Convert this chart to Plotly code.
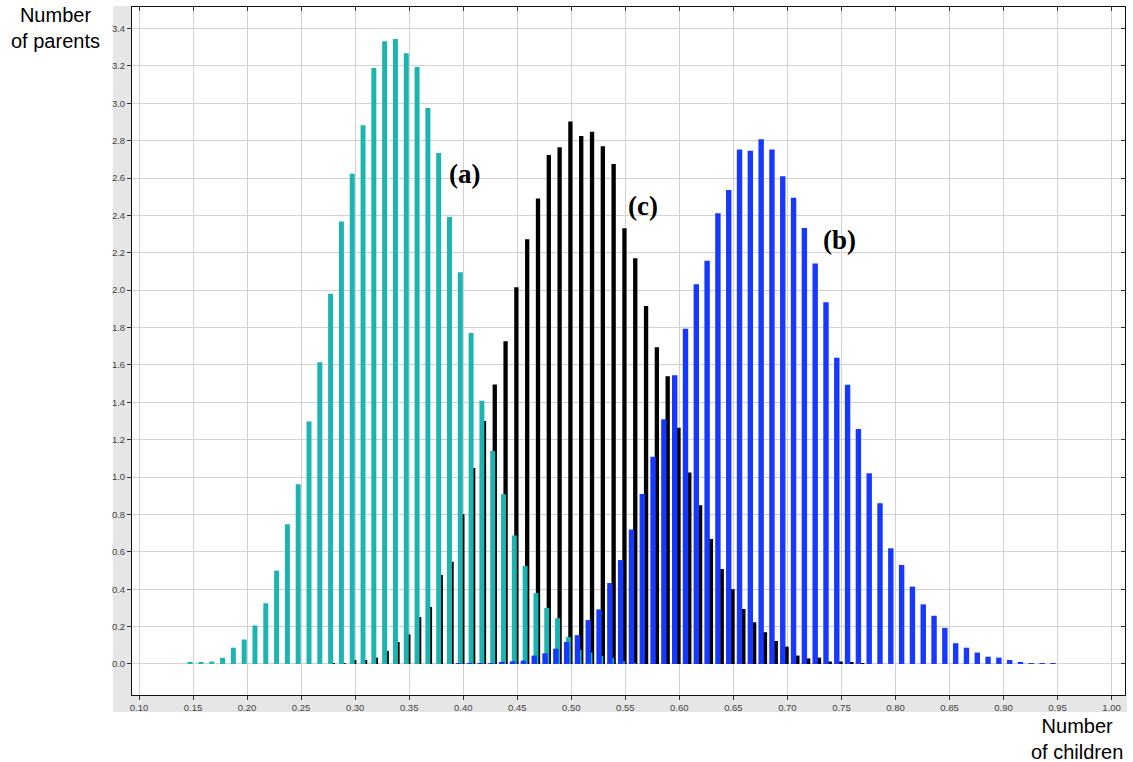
import plotly.graph_objects as go

# ---- data ----
bins_a = [0.15, 0.16, 0.17, 0.18, 0.19, 0.20, 0.21, 0.22, 0.23, 0.24, 0.25, 0.26, 0.27, 0.28,
          0.29, 0.30, 0.31, 0.32, 0.33, 0.34, 0.35, 0.36, 0.37, 0.38, 0.39, 0.40, 0.41, 0.42,
          0.43, 0.44, 0.45, 0.46, 0.47, 0.48, 0.49, 0.50, 0.51, 0.52, 0.53, 0.54, 0.55, 0.56]
vals_a = [0.008, 0.008, 0.013, 0.033, 0.087, 0.131, 0.206, 0.325, 0.499, 0.747, 0.961, 1.297,
          1.614, 1.981, 2.367, 2.623, 2.882, 3.189, 3.332, 3.344, 3.267, 3.194, 2.975, 2.734,
          2.392, 2.096, 1.771, 1.408, 1.140, 0.908, 0.688, 0.524, 0.379, 0.300, 0.245, 0.144,
          0.076, 0.062, 0.044, 0.033, 0.015, 0.004]

bins_c = [0.28, 0.29, 0.30, 0.31, 0.32, 0.33, 0.34, 0.35, 0.36, 0.37, 0.38, 0.39, 0.40, 0.41,
          0.42, 0.43, 0.44, 0.45, 0.46, 0.47, 0.48, 0.49, 0.50, 0.51, 0.52, 0.53, 0.54, 0.55,
          0.56, 0.57, 0.58, 0.59, 0.60, 0.61, 0.62, 0.63, 0.64, 0.65, 0.66, 0.67, 0.68, 0.69,
          0.70, 0.71, 0.72, 0.73, 0.74, 0.75, 0.76, 0.77]
vals_c = [0.003, 0.005, 0.021, 0.021, 0.034, 0.070, 0.117, 0.158, 0.251, 0.305, 0.476, 0.547,
          0.801, 1.049, 1.300, 1.495, 1.727, 2.016, 2.272, 2.490, 2.723, 2.764, 2.902, 2.825,
          2.848, 2.770, 2.675, 2.331, 2.171, 1.915, 1.694, 1.540, 1.264, 1.024, 0.849, 0.669,
          0.508, 0.400, 0.294, 0.223, 0.170, 0.123, 0.093, 0.045, 0.030, 0.034, 0.013, 0.013,
          0.008, 0.003]

bins_b = [0.40, 0.41, 0.42, 0.43, 0.44, 0.45, 0.46, 0.47, 0.48, 0.49, 0.50, 0.51, 0.52, 0.53,
          0.54, 0.55, 0.56, 0.57, 0.58, 0.59, 0.60, 0.61, 0.62, 0.63, 0.64, 0.65, 0.66, 0.67,
          0.68, 0.69, 0.70, 0.71, 0.72, 0.73, 0.74, 0.75, 0.76, 0.77, 0.78, 0.79, 0.80, 0.81,
          0.82, 0.83, 0.84, 0.85, 0.86, 0.87, 0.88, 0.89, 0.90, 0.91, 0.92, 0.93, 0.94, 0.95]
vals_b = [0.002, 0.003, 0.003, 0.004, 0.011, 0.014, 0.018, 0.045, 0.057, 0.082, 0.118, 0.154,
          0.235, 0.292, 0.433, 0.556, 0.719, 0.910, 1.109, 1.309, 1.545, 1.793, 2.032, 2.158,
          2.411, 2.536, 2.753, 2.746, 2.807, 2.753, 2.609, 2.495, 2.333, 2.142, 1.935, 1.639,
          1.494, 1.257, 1.020, 0.860, 0.619, 0.530, 0.414, 0.319, 0.258, 0.193, 0.111, 0.087,
          0.061, 0.039, 0.034, 0.021, 0.009, 0.004, 0.003, 0.002]

series_labels = ["(a)", "(b)", "(c)"]
label_x = [0.4015, 0.7485, 0.5665]
label_y = [2.62, 2.27, 2.45]

x_title = "Number<br>of children"
y_title = "Number<br>of parents"

# ---- style ----
TEAL = "#1cb4b0"
BLUE = "#1638ff"
BLACK = "#000000"
XR = [0.0935, 1.0124]
YR = [-0.166, 3.515]

fig = go.Figure()
fig.add_trace(go.Bar(x=bins_c, y=vals_c, width=0.0040, offset=-0.0028,
                     marker=dict(color=BLACK, line=dict(width=0)), name="(c)"))
fig.add_trace(go.Bar(x=bins_a, y=vals_a, width=0.0046, offset=-0.0050,
                     marker=dict(color=TEAL, line=dict(width=0)), name="(a)"))
fig.add_trace(go.Bar(x=bins_b, y=vals_b, width=0.0050, offset=-0.0068,
                     marker=dict(color=BLUE, line=dict(width=0)), name="(b)"))
# empty trace to carry the mirrored top/right axes
fig.add_trace(go.Scatter(x=[], y=[], xaxis="x2", yaxis="y2", showlegend=False,
                         hoverinfo="skip"))

tickfont = dict(family="Liberation Sans, Arial, sans-serif", size=9.5, color="#444444")

for i, t in enumerate(series_labels):
    fig.add_annotation(x=label_x[i], y=label_y[i], text="<b>%s</b>" % t, showarrow=False,
                       font=dict(family="Liberation Serif, Times New Roman, serif", size=27,
                                 color="black"),
                       xanchor="center", yanchor="middle")

fig.add_annotation(xref="paper", yref="paper", x=-0.0775, y=0.9695, text=y_title,
                   showarrow=False, xanchor="center", yanchor="middle", align="center",
                   font=dict(family="Liberation Sans, Arial, sans-serif", size=20, color="black"))
fig.add_annotation(xref="paper", yref="paper", x=0.9517, y=-0.0635, text=x_title,
                   showarrow=False, xanchor="center", yanchor="middle", align="center",
                   font=dict(family="Liberation Sans, Arial, sans-serif", size=20, color="black"))

# gray frame strips (left and bottom)
fig.add_shape(type="rect", xref="paper", yref="paper", x0=-0.0191, x1=0.0, y0=-0.0247,
              y1=1.0015, fillcolor="#e6e6e6", line=dict(width=0), layer="below")
fig.add_shape(type="rect", xref="paper", yref="paper", x0=0.0, x1=1.002, y0=-0.0247,
              y1=0.0, fillcolor="#e6e6e6", line=dict(width=0), layer="below")

fig.update_layout(
    width=1133, height=762,
    margin=dict(l=132, r=8, t=7, b=67),
    paper_bgcolor="white", plot_bgcolor="white",
    barmode="overlay", showlegend=False,
    xaxis=dict(range=XR, tick0=0.10, dtick=0.05, tickformat=".2f",
               showgrid=True, gridcolor="#d2d2d2", gridwidth=1, zeroline=False,
               showline=True, linecolor="#111111", linewidth=1,
               ticks="outside", ticklen=4, tickcolor="#333333", tickfont=tickfont),
    yaxis=dict(range=YR, tick0=0.0, dtick=0.2, tickformat=".1f",
               showgrid=True, gridcolor="#d2d2d2", gridwidth=1, zeroline=False,
               showline=True, linecolor="#111111", linewidth=1,
               ticks="outside", ticklen=4, tickcolor="#333333", tickfont=tickfont),
    xaxis2=dict(overlaying="x", side="top", range=XR, tick0=0.10, dtick=0.05,
                showgrid=False, zeroline=False, showticklabels=False,
                showline=True, linecolor="#111111", linewidth=1,
                ticks="inside", ticklen=4, tickcolor="#333333"),
    yaxis2=dict(overlaying="y", side="right", range=YR, tick0=0.0, dtick=0.2,
                showgrid=False, zeroline=False, showticklabels=False,
                showline=True, linecolor="#111111", linewidth=1,
                ticks="inside", ticklen=4, tickcolor="#333333"),
)

fig.write_html("out.html", config={"displayModeBar": False},
               post_script="document.body.style.margin='0';document.body.style.overflow='hidden';")
